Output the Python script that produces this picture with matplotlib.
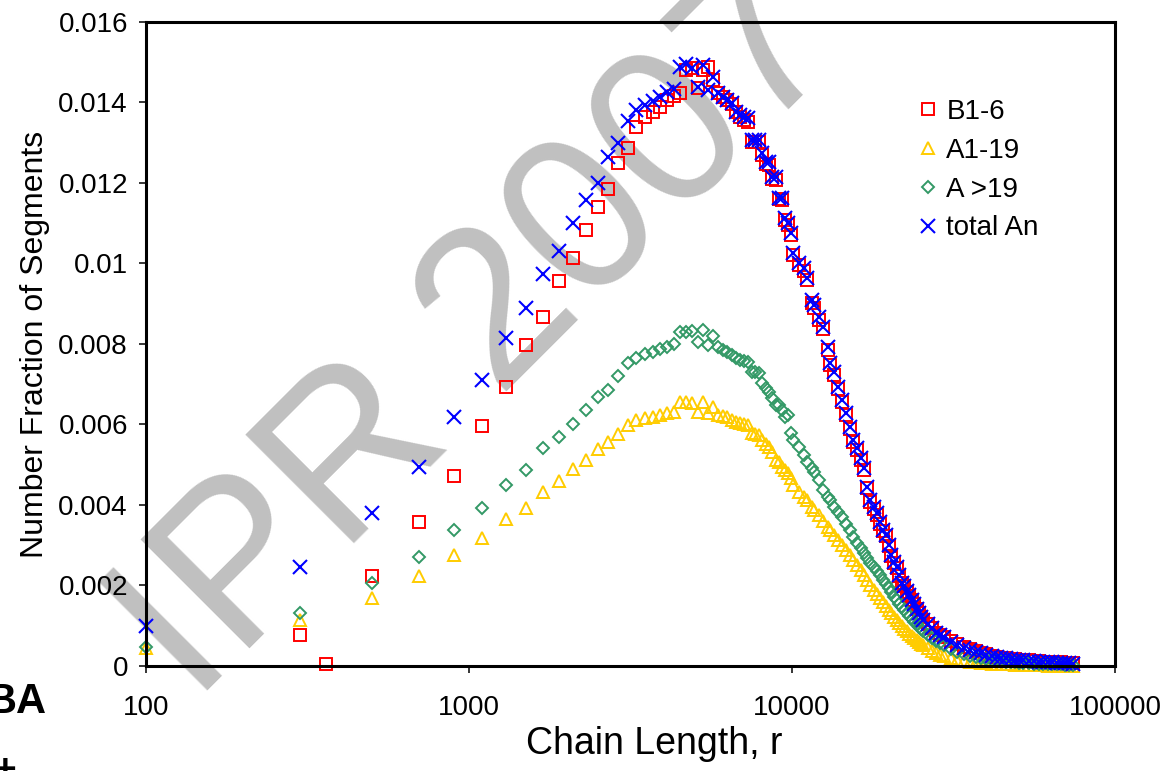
import numpy as np
import matplotlib
matplotlib.use("Agg")
import matplotlib.pyplot as plt
from matplotlib.ticker import FixedLocator, FuncFormatter

plt.rcParams['font.family'] = ['Liberation Sans', 'DejaVu Sans']

nan = np.nan

# chain length r (shared by all four series)
r = [100, 300, 360, 500, 700, 900, 1100, 1300, 1500, 1700, 1900, 2100, 2300,
     2500, 2700, 2900, 3100, 3300, 3500, 3700, 3900, 4100, 4300, 4500, 4700,
     4900, 5100, 5300, 5500, 5700, 5900, 6100, 6300, 6500, 6700, 6900, 7100,
     7300, 7500, 7700, 7900, 8100, 8300, 8500, 8700, 8900, 9100, 9300, 9500,
     9700, 9900,
     10100, 10500, 10900, 11100, 11500, 11700, 12100, 12500, 12900, 13100,
     13500, 13900, 14300, 14700, 15100, 15500, 15900, 16300, 16700, 17100,
     17500, 17900, 18300, 18700, 19100, 19500, 19900, 20300, 20700, 21100,
     21500, 21900, 22300, 22700, 23100, 23500, 23900, 24300, 24700, 25100,
     25500, 26300, 27100, 27900, 28700, 29500,
     31000, 32500, 34000, 35500, 37000, 38500, 40000, 41500, 43000, 44500,
     46000, 47500, 49000, 50500, 52000, 54000, 56000, 58000, 60000, 62000,
     64000, 66000, 68000, 70000, 72000, 74000]

b1_6 = [nan, 0.00077, 0.00005, 0.00224, 0.00358, 0.00472, 0.00596, 0.00693,
        0.00797, 0.00867, 0.00956, 0.01013, 0.01083, 0.01140, 0.01185, 0.01250,
        0.01287, 0.01339, 0.01364, 0.01376, 0.01389, 0.01406, 0.01416, 0.01424,
        0.01481, 0.01486, 0.01436, 0.01481, 0.01488, 0.01456, 0.01424, 0.01414,
        0.01406, 0.01396, 0.01376, 0.01364, 0.01357, 0.01352, 0.01302, 0.01302,
        0.01302, 0.01270, 0.01247, 0.01245, 0.01210, 0.01208, 0.01160, 0.01158,
        0.01108, 0.01096, 0.01070,
        0.01020, 0.00995, 0.00982, 0.00958, 0.00903, 0.00890, 0.00860, 0.00836,
        0.00786, 0.00748, 0.00724, 0.00688, 0.00655, 0.00623, 0.00589, 0.00556,
        0.00537, 0.00512, 0.00487, 0.00441, 0.00408, 0.00391, 0.00376, 0.00354,
        0.00335, 0.00322, 0.00298, 0.00274, 0.00256, 0.00244, 0.00224, 0.00205,
        0.00198, 0.00185, 0.00175, 0.00163, 0.00153, 0.00142, 0.00132, 0.00122,
        0.00114, 0.00104, 0.00094, 0.00083, 0.00078, 0.00073,
        0.00062, 0.00054, 0.00047, 0.00042, 0.00037, 0.00033, 0.00029, 0.00026,
        0.00023, 0.00021, 0.00020, 0.00018, 0.00017, 0.00016, 0.00015, 0.00014,
        0.00013, 0.00012, 0.00011, 0.00010, 0.00010, 0.00009, 0.00009, 0.00008,
        0.00008, 0.00007]

a1_19 = [0.00045, 0.00114, nan, 0.00170, 0.00224, 0.00276, 0.00318, 0.00365,
         0.00392, 0.00432, 0.00460, 0.00489, 0.00512, 0.00539, 0.00556, 0.00576,
         0.00599, 0.00611, 0.00616, 0.00619, 0.00624, 0.00629, 0.00631, 0.00656,
         0.00656, 0.00653, 0.00631, 0.00656, 0.00629, 0.00643, 0.00624, 0.00621,
         0.00619, 0.00611, 0.00606, 0.00604, 0.00601, 0.00599, 0.00579, 0.00576,
         0.00574, 0.00561, 0.00552, 0.00544, 0.00532, 0.00512, 0.00507, 0.00494,
         0.00487, 0.00480, 0.00467,
         0.00450, 0.00432, 0.00420, 0.00412, 0.00395, 0.00388, 0.00375, 0.00360,
         0.00345, 0.00338, 0.00325, 0.00313, 0.00301, 0.00288, 0.00276, 0.00263,
         0.00251, 0.00239, 0.00226, 0.00214, 0.00201, 0.00189, 0.00179, 0.00169,
         0.00159, 0.00149, 0.00139, 0.00132, 0.00122, 0.00114, 0.00107, 0.00099,
         0.00092, 0.00087, 0.00080, 0.00075, 0.00070, 0.00065, 0.00060, 0.00055,
         0.00052, 0.00045, 0.00037, 0.00032, 0.00027, 0.00025,
         0.00020, 0.00015, 0.00012, 0.00010, 0.00009, 0.00008, 0.00007, 0.00006,
         0.00005, 0.00005, 0.00004, 0.00004, 0.00003, 0.00003, 0.00003, 0.00002,
         0.00002, 0.00002, 0.00002, 0.00001, 0.00001, 0.00001, 0.00001, 0.00001,
         0.00001, 0.00001]

a_gt19 = [0.00047, 0.00132, nan, 0.00206, 0.00271, 0.00338, 0.00392, 0.00450,
          0.00487, 0.00541, 0.00569, 0.00601, 0.00636, 0.00668, 0.00686, 0.00720,
          0.00753, 0.00765, 0.00775, 0.00780, 0.00788, 0.00793, 0.00800, 0.00830,
          0.00830, 0.00832, 0.00805, 0.00835, 0.00798, 0.00820, 0.00793, 0.00785,
          0.00780, 0.00773, 0.00765, 0.00760, 0.00758, 0.00755, 0.00730, 0.00730,
          0.00728, 0.00703, 0.00691, 0.00681, 0.00666, 0.00648, 0.00648, 0.00636,
          0.00619, 0.00624, 0.00579,
          0.00561, 0.00544, 0.00524, 0.00507, 0.00492, 0.00482, 0.00462, 0.00437,
          0.00420, 0.00412, 0.00395, 0.00383, 0.00370, 0.00353, 0.00338, 0.00320,
          0.00306, 0.00293, 0.00281, 0.00268, 0.00256, 0.00246, 0.00236, 0.00226,
          0.00214, 0.00204, 0.00194, 0.00184, 0.00171, 0.00164, 0.00154, 0.00147,
          0.00139, 0.00132, 0.00124, 0.00117, 0.00109, 0.00104, 0.00097, 0.00092,
          0.00087, 0.00077, 0.00070, 0.00062, 0.00057, 0.00052,
          0.00042, 0.00035, 0.00030, 0.00025, 0.00022, 0.00020, 0.00017, 0.00015,
          0.00014, 0.00012, 0.00011, 0.00010, 0.00009, 0.00008, 0.00008, 0.00007,
          0.00006, 0.00006, 0.00005, 0.00005, 0.00004, 0.00004, 0.00004, 0.00003,
          0.00003, 0.00003]

total_an = [0.00099, 0.00246, nan, 0.00380, 0.00494, 0.00619, 0.00710, 0.00815,
            0.00890, 0.00974, 0.01030, 0.01100, 0.01158, 0.01200, 0.01265,
            0.01300, 0.01354, 0.01381, 0.01394, 0.01404, 0.01414, 0.01426,
            0.01434, 0.01488, 0.01496, 0.01486, 0.01439, 0.01493, 0.01431,
            0.01463, 0.01424, 0.01414, 0.01406, 0.01399, 0.01376, 0.01369,
            0.01364, 0.01362, 0.01307, 0.01307, 0.01307, 0.01275, 0.01252,
            0.01252, 0.01215, 0.01215, 0.01163, 0.01163, 0.01113, 0.01101,
            0.01076,
            0.01026, 0.01001, 0.00989, 0.00964, 0.00909, 0.00897, 0.00867,
            0.00842, 0.00793, 0.00753, 0.00730, 0.00693, 0.00661, 0.00629,
            0.00594, 0.00561, 0.00542, 0.00517, 0.00492, 0.00445, 0.00412,
            0.00395, 0.00380, 0.00358, 0.00338, 0.00325, 0.00301, 0.00276,
            0.00258, 0.00246, 0.00226, 0.00206, 0.00199, 0.00186, 0.00176,
            0.00164, 0.00154, 0.00142, 0.00132, 0.00122, 0.00114, 0.00104,
            0.00094, 0.00082, 0.00077, 0.00072,
            0.00060, 0.00052, 0.00045, 0.00040, 0.00035, 0.00032, 0.00027,
            0.00025, 0.00022, 0.00020, 0.00019, 0.00017, 0.00016, 0.00015,
            0.00014, 0.00013, 0.00012, 0.00011, 0.00010, 0.00009, 0.00009,
            0.00008, 0.00008, 0.00007, 0.00007, 0.00006]

for s in (b1_6, a1_19, a_gt19, total_an):
    assert len(s) == len(r)

x_ticks = [100, 1000, 10000, 100000]
y_ticks = [0, 0.002, 0.004, 0.006, 0.008, 0.01, 0.012, 0.014, 0.016]

fig = plt.figure(figsize=(11.64, 7.71), dpi=100)
ax = fig.add_axes([0.1254, 0.1362, 0.8325, 0.8353])

ms_kw = dict(linestyle='none', markerfacecolor='none', clip_on=False)
ax.plot(r, b1_6, marker='s', markersize=8.4, markeredgewidth=1.4,
        markeredgecolor='#FF0000', label='B1-6', **ms_kw)
ax.plot(r, a1_19, marker='^', markersize=9.2, markeredgewidth=1.4,
        markeredgecolor='#FFCC00', label='A1-19', **ms_kw)
ax.plot(r, a_gt19, marker='D', markersize=6.4, markeredgewidth=1.4,
        markeredgecolor='#339966', label='A >19', **ms_kw)
ax.plot(r, total_an, marker='x', markersize=10.5, markeredgewidth=1.5,
        markeredgecolor='#0000FF', label='total An', **ms_kw)

ax.set_xscale('log')
ax.set_xlim(100, 100000)
ax.set_ylim(0, 0.016)
ax.xaxis.set_major_locator(FixedLocator(x_ticks))
ax.xaxis.set_minor_locator(FixedLocator([]))
ax.xaxis.set_major_formatter(FuncFormatter(lambda v, p: '%d' % v))
ax.yaxis.set_major_locator(FixedLocator(y_ticks))
ax.yaxis.set_major_formatter(FuncFormatter(lambda v, p: '%g' % v))

for sp in ax.spines.values():
    sp.set_linewidth(2.2)
ax.tick_params(axis='both', direction='out', length=5, width=1.1,
               labelsize=20)
ax.tick_params(axis='x', pad=16)
ax.tick_params(axis='y', pad=8)

ax.set_xlabel('Chain Length, r', fontsize=27)
ax.xaxis.set_label_coords(0.524, -0.093)
ax.set_ylabel('Number Fraction of Segments', fontsize=23, labelpad=6)

leg = ax.legend(loc='upper left', bbox_to_anchor=(0.78, 0.902),
                frameon=False, fontsize=20, handlelength=0.9,
                handletextpad=0.2, labelspacing=0.46, borderpad=0)

# watermark behind the markers
ax.text(0.413, 0.563, 'IPR 2007', transform=fig.transFigure, rotation=45,
        rotation_mode='anchor', ha='center', va='center', fontsize=160,
        color='#C0C0C0', zorder=0.5, clip_on=False)

fig.text(46 / 1164, 1 - 713 / 771, 'BA', ha='right', va='baseline',
         fontsize=30, fontweight='bold')
fig.text(5 / 1164, 1 - 781 / 771, '+', ha='center', va='baseline',
         fontsize=28, fontweight='bold')

fig.savefig('out.png', dpi=100)
